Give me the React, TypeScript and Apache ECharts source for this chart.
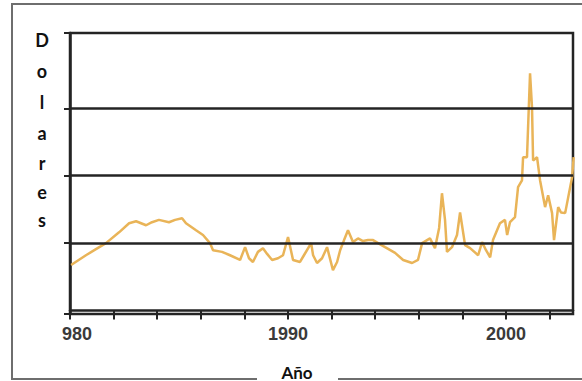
import React, { useEffect, useRef } from "react";
import * as echarts from "echarts";

const years = [
  1980.05, 1980.73, 1981.19, 1981.65, 1982.25, 1982.71, 1983.03, 1983.49, 1983.76, 1984.08,
  1984.54, 1984.82, 1985.14, 1985.32, 1985.78, 1986.1, 1986.42, 1986.56, 1986.97, 1987.34,
  1987.8, 1988.03, 1988.21, 1988.39, 1988.62, 1988.85, 1989.04, 1989.27, 1989.54, 1989.77,
  1990.0, 1990.23, 1990.55, 1990.73, 1991.06, 1991.15, 1991.33, 1991.56, 1991.79, 1992.06,
  1992.25, 1992.39, 1992.57, 1992.75, 1992.98, 1993.21, 1993.44, 1993.67, 1993.9, 1994.13,
  1994.45, 1994.91, 1995.28, 1995.69, 1995.96, 1996.15, 1996.51, 1996.74, 1996.93, 1997.06,
  1997.2, 1997.29, 1997.52, 1997.75, 1997.89, 1998.12, 1998.35, 1998.72, 1998.9, 1999.08,
  1999.27, 1999.4, 1999.72, 1999.95, 2000.05, 2000.18, 2000.41, 2000.55, 2000.73, 2000.78,
  2000.96, 2001.1, 2001.19, 2001.24, 2001.42, 2001.56, 2001.79, 2001.93, 2002.11, 2002.2,
  2002.39, 2002.52, 2002.71, 2003.03, 2003.1,
];

const prices = [
  1.35, 1.64, 1.82, 2.0, 2.32, 2.59, 2.65, 2.53, 2.62, 2.69,
  2.62, 2.69, 2.74, 2.59, 2.38, 2.24, 2.0, 1.79, 1.74, 1.64,
  1.5, 1.88, 1.55, 1.44, 1.74, 1.85, 1.68, 1.5, 1.55, 1.64,
  2.18, 1.5, 1.44, 1.64, 2.0, 1.64, 1.41, 1.55, 1.88, 1.2,
  1.44, 1.79, 2.09, 2.38, 2.03, 2.14, 2.06, 2.09, 2.09, 2.0,
  1.88, 1.71, 1.5, 1.41, 1.5, 2.0, 2.14, 1.85, 2.45, 3.48,
  2.69, 1.74, 1.88, 2.24, 2.91, 1.94, 1.85, 1.64, 2.03, 1.79,
  1.58, 2.09, 2.59, 2.69, 2.24, 2.62, 2.77, 3.66, 3.86, 4.55,
  4.55, 7.04, 6.03, 4.45, 4.55, 3.86, 3.07, 3.42, 2.89, 2.09,
  3.07, 2.91, 2.89, 3.96, 4.55,
];

const yMin = -0.104;
const yMax = 8.237;
const gridValues = [2, 4, 6];
const xLabelYears = [1980, 1990, 2000];
const xLabelTexts = ["980", "1990", "2000"];
const yTitleLetters = ["D", "o", "l", "a", "r", "e", "s"];
const xTitle = "Año";

export default function App() {
  const ref = useRef<HTMLDivElement>(null);
  useEffect(() => {
    if (!ref.current) return;
    const chart = echarts.init(ref.current, null, { renderer: "svg" });
    const letterY = [40, 71, 102, 133, 163, 192, 220];
    const graphics: any[] = [
      {
        type: "rect",
        silent: true,
        z: -10,
        shape: { x: 12, y: 4, width: 620, height: 375 },
        style: { fill: "none", stroke: "#6e6e6e", lineWidth: 2 },
      },
      {
        type: "rect",
        z: 10,
        shape: { x: 257, y: 370, width: 81, height: 11 },
        style: { fill: "#ffffff" },
      },
      {
        type: "text",
        z: 11,
        x: 297,
        y: 372,
        style: {
          text: xTitle,
          fontFamily: "Lato",
          fontWeight: "bold",
          fontSize: 17,
          fill: "#111",
          align: "center",
          verticalAlign: "middle",
        },
      },
    ];
    yTitleLetters.forEach((ch, i) => {
      graphics.push({
        type: "text",
        x: 42,
        y: letterY[i],
        style: {
          text: ch,
          fontFamily: "Lato",
          fontWeight: "bold",
          fontSize: 18,
          fill: "#111",
          align: "center",
          verticalAlign: "middle",
        },
      });
    });

    const labelStyle = {
      color: "#3a3a3a",
      fontFamily: "Liberation Sans",
      fontWeight: "bold",
      fontSize: 18,
    };

    chart.setOption({
      animation: false,
      backgroundColor: "#ffffff",
      grid: {
        left: 70,
        right: 9,
        top: 33,
        bottom: 67,
        show: true,
        borderColor: "#242424",
        borderWidth: 2.5,
        containLabel: false,
        outerBoundsMode: "none",
      },
      xAxis: {
        type: "value",
        min: 1980,
        max: 2003.07,
        interval: 2,
        splitLine: { show: false },
        axisLine: { show: true, lineStyle: { color: "#242424", width: 2.5 } },
        axisTick: { show: true, inside: false, length: 9, lineStyle: { color: "#242424", width: 2 } },
        axisLabel: {
          show: true,
          margin: 11,
          showMinLabel: true,
          showMaxLabel: false,
          ...labelStyle,
          formatter: (v: number) => {
            const i = xLabelYears.indexOf(Math.round(v * 100) / 100);
            if (i < 0) return "";
            return i === 0 ? "{s|" + xLabelTexts[i] + "}" : "{n|" + xLabelTexts[i] + "}";
          },
          rich: {
            s: { padding: [0, 0, 0, 14], ...labelStyle },
            n: { ...labelStyle },
          },
        },
      },
      yAxis: {
        type: "value",
        min: yMin,
        max: yMax,
        axisLabel: { show: false },
        axisLine: { show: true, lineStyle: { color: "#242424", width: 2.5 } },
        axisTick: {
          show: true,
          inside: false,
          length: 6,
          customValues: [yMin, ...gridValues, yMax],
          lineStyle: { color: "#242424", width: 2 },
        },
        splitLine: { show: false },
      },
      graphic: graphics,
      series: [
        {
          type: "line",
          data: years.map((y, i) => [y, prices[i]]),
          showSymbol: false,
          clip: true,
          lineStyle: { color: "#E9B458", width: 2.5 },
          z: 1,
          markLine: {
            silent: true,
            symbol: ["none", "none"],
            label: { show: false },
            lineStyle: { type: "solid", color: "#242424", width: 2.5 },
            data: gridValues.map((v) => ({ yAxis: v })),
          },
        },
      ],
    });
    return () => chart.dispose();
  }, []);
  return (
    <div
      ref={ref}
      style={{ position: "absolute", left: 0, top: 0, width: 582, height: 381 }}
    />
  );
}
